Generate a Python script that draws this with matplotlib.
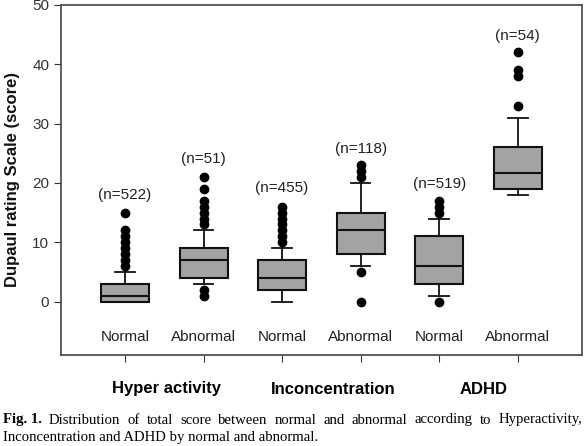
import matplotlib
matplotlib.use("Agg")
import matplotlib.pyplot as plt

plt.rcParams["font.family"] = ["Liberation Sans", "DejaVu Sans"]

groups = ["Normal", "Abnormal", "Normal", "Abnormal", "Normal", "Abnormal"]
counts = ["(n=522)", "(n=51)", "(n=455)", "(n=118)", "(n=519)", "(n=54)"]
count_y = [18, 24, 19.2, 25.7, 19.9, 44.7]

q1 = [0, 4, 2, 8, 3, 19]
med = [1, 7, 4, 12, 6, 21.6]
q3 = [3, 9, 7, 15, 11, 26]
whislo = [0, 3, 0, 6, 1, 18]
whishi = [5, 12, 9, 20, 14, 31]
fliers = [
    [6, 7, 8, 9, 10, 11, 12, 15],
    [1, 2, 13, 14, 15, 16, 17, 19, 21],
    [10, 11, 12, 13, 14, 15, 16],
    [0, 5, 21, 22, 23],
    [0, 15, 16, 17],
    [33, 38, 39, 42],
]

domains = ["Hyper activity", "Inconcentration", "ADHD"]
domain_x = [1.53, 3.65, 5.57]

caption1 = "Distribution of total score between normal and abnormal according to Hyperactivity,"
caption2 = "Inconcentration and ADHD by normal and abnormal."

stats = []
for i in range(len(groups)):
    stats.append(dict(q1=q1[i], med=med[i], q3=q3[i], whislo=whislo[i],
                      whishi=whishi[i], fliers=fliers[i]))

fig = plt.figure(figsize=(5.87, 4.46), dpi=100)
ax = fig.add_axes([0.104, 0.204, 0.887, 0.785])

ax.bxp(stats, positions=range(1, 7), widths=0.61, patch_artist=True,
       showfliers=True,
       boxprops=dict(facecolor="#a3a3a3", edgecolor="#111111", linewidth=1.5),
       medianprops=dict(color="#111111", linewidth=1.5),
       whiskerprops=dict(color="#111111", linewidth=1.3),
       capprops=dict(color="#111111", linewidth=1.3),
       capwidths=0.25,
       flierprops=dict(marker="o", markerfacecolor="black",
                       markeredgecolor="black", markersize=6))

ax.set_xlim(0.185, 6.815)
ax.set_ylim(-9, 50)
ax.set_xticks(range(1, 7))
ax.set_xticklabels([])
ax.set_yticks([0, 10, 20, 30, 40, 50])
ax.tick_params(axis="y", labelsize=11, colors="#333333", length=5)
ax.tick_params(axis="x", length=5, colors="#333333")
for s in ax.spines.values():
    s.set_color("#444444")
    s.set_linewidth(1.2)

for i in range(len(groups)):
    ax.text(i + 1, -6, groups[i], ha="center", va="center", fontsize=11,
            color="#222222")
    ax.text(i + 1, count_y[i], counts[i], ha="center", va="center",
            fontsize=11, color="#222222")

ax.set_ylabel("Dupaul rating Scale (score)", fontsize=12, fontweight="bold",
              color="#111111", labelpad=9)

trans = ax.get_xaxis_transform()
for d, x in zip(domains, domain_x):
    fig.text(0, 1 - 389 / 446, d, ha="center", va="center", fontsize=12,
             fontweight="bold")
    fig.texts[-1].set_x(fig.transFigure.inverted().transform(
        ax.transData.transform((x, 0)))[0])

# caption, first line justified between x=49 and x=582 px
serif = "Liberation Serif"
y1 = 1 - 420 / 446
y2 = 1 - 438 / 446
fig.text(3 / 587, y1, "Fig. 1.", fontsize=10.6, family=serif,
         fontweight="bold", va="center")
r = fig.canvas.get_renderer()
words = caption1.split()
arts = [fig.text(0, y1, w, fontsize=10.6, family=serif, va="center")
        for w in words]
widths = [a.get_window_extent(r).width for a in arts]
x0, x1 = 49, 582
gap = (x1 - x0 - sum(widths)) / (len(words) - 1)
x = x0
for a, w in zip(arts, widths):
    a.set_x(x / 587)
    x += w + gap
fig.text(3 / 587, y2, caption2, fontsize=10.6, family=serif, va="center")

fig.savefig("out.png", dpi=100)
